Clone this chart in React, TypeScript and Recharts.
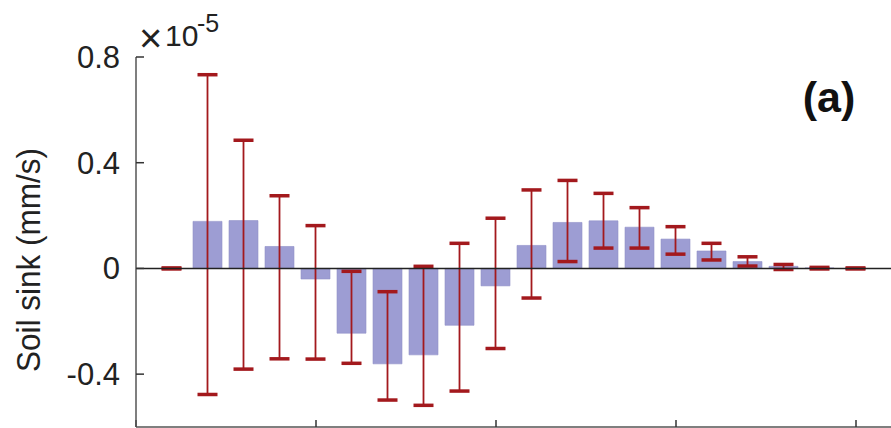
import React from 'react';
import { ComposedChart, Bar, XAxis, YAxis, ReferenceLine } from 'recharts';

const layers = [1, 2, 3, 4, 5, 6, 7, 8, 9, 10, 11, 12, 13, 14, 15, 16, 17, 18, 19, 20];
const sinkMean = [0, 0.178, 0.181, 0.083, -0.04, -0.245, -0.361, -0.327, -0.215, -0.066, 0.087, 0.174, 0.18, 0.156, 0.111, 0.066, 0.026, 0.008, 0.002, 0];
const errHigh = [0.002, 0.733, 0.485, 0.275, 0.162, -0.011, -0.088, 0.008, 0.095, 0.19, 0.297, 0.333, 0.284, 0.23, 0.158, 0.095, 0.044, 0.015, 0.004, 0.002];
const errLow = [-0.002, -0.477, -0.381, -0.342, -0.343, -0.359, -0.498, -0.518, -0.464, -0.303, -0.112, 0.026, 0.077, 0.077, 0.054, 0.032, 0.009, -0.004, -0.002, -0.002];
const yTicks = [-0.4, 0, 0.4, 0.8];
const xTicks = [0, 5, 10, 15, 20];

const data = layers.map((x, i) => ({ x, v: sinkMean[i], err: [errLow[i], errHigh[i]] }));

const FONT = '"Liberation Sans", Arial, Helvetica, sans-serif';
const RED = '#a3191d';

const ErrShape = (props: any) => {
  const { x, y, width, height } = props;
  if (x == null || y == null) return <g />;
  const cx = x + width / 2;
  const top = Math.min(y, y + height);
  const bot = Math.max(y, y + height);
  return (
    <g>
      <line x1={cx} x2={cx} y1={top} y2={bot} stroke={RED} strokeWidth={1.8} />
      <line x1={cx - 10} x2={cx + 10} y1={top} y2={top} stroke={RED} strokeWidth={3.5} />
      <line x1={cx - 10} x2={cx + 10} y1={bot} y2={bot} stroke={RED} strokeWidth={3.5} />
    </g>
  );
};

export default function App() {
  return (
    <div style={{ position: 'absolute', left: 0, top: 0, width: 891, height: 428, overflow: 'hidden', background: '#fff' }}>
      <ComposedChart
        width={900}
        height={428}
        data={data}
        margin={{ top: 57, right: 8, bottom: 0, left: 0 }}
        barSize={29}
        barGap={-29}
      >
        <XAxis
          dataKey="x"
          type="number"
          domain={[0, 21]}
          ticks={xTicks}
          height={1}
          tickSize={-7}
          tick={() => <g />}
          axisLine={{ stroke: '#555', strokeWidth: 1.5 }}
          tickLine={{ stroke: '#333', strokeWidth: 1.5 }}
          allowDataOverflow
        />
        <YAxis
          type="number"
          domain={[-0.6, 0.8]}
          ticks={yTicks}
          width={136}
          tickSize={-8}
          tickMargin={24}
          allowDataOverflow
          tickFormatter={(v: number) => (v === 0 ? '0' : v.toFixed(1))}
          tick={{ fill: '#222', fontSize: 31, fontFamily: FONT }}
          axisLine={{ stroke: '#555', strokeWidth: 1.5 }}
          tickLine={{ stroke: '#333', strokeWidth: 1.5 }}
        />
        <ReferenceLine y={0} stroke="#222" strokeWidth={1.6} />
        <Bar dataKey="v" fill="#9d9dd3" stroke="#9090c8" strokeWidth={0.6} isAnimationActive={false} />
        <Bar dataKey="err" shape={ErrShape} isAnimationActive={false} />
      </ComposedChart>
      <svg width={891} height={428} style={{ position: 'absolute', left: 0, top: 0, pointerEvents: 'none' }}>
        <text
          transform="translate(40,260) rotate(-90)"
          textAnchor="middle"
          fontFamily={FONT}
          fontSize={34}
          textLength={224}
          lengthAdjust="spacingAndGlyphs"
          fill="#222"
        >
          Soil sink (mm/s)
        </text>
        <text x={139} y={52} fontFamily={FONT} fontSize={40} fill="#222">×</text>
        <text x={165} y={46} fontFamily={FONT} fontSize={30} fill="#222">10</text>
        <text x={197} y={32} fontFamily={FONT} fontSize={25} fill="#222">-5</text>
        <text x={829} y={112} textAnchor="middle" fontFamily={FONT} fontSize={43} fontWeight="bold" fill="#111">
          (a)
        </text>
      </svg>
    </div>
  );
}
